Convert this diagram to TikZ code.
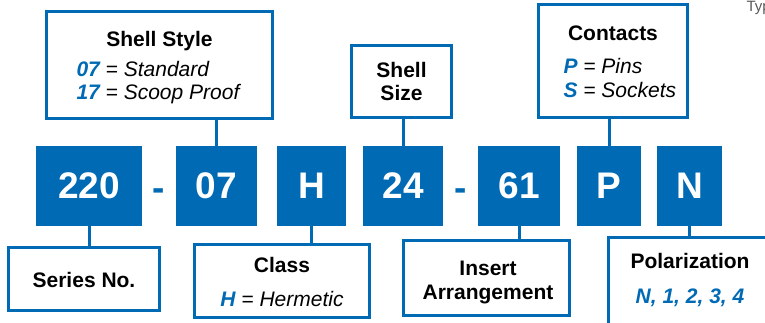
\documentclass[tikz,border=0pt]{standalone}
\usepackage{fontspec}
\setmainfont{Liberation Sans}
\usepackage{tikz}
\definecolor{codeblue}{RGB}{0,106,180}

\begin{document}
\begin{tikzpicture}[x=1pt,y=-1pt,
  codebox/.style={fill=codeblue,text=white,minimum height=80pt,inner sep=0pt,outer sep=0pt,
    font=\fontsize{37}{40}\selectfont\bfseries},
  infobox/.style={draw=codeblue,line width=3pt,fill=white,inner sep=0pt,outer sep=0pt},
  link/.style={draw=codeblue,line width=3pt},
  hyph/.style={text=codeblue,anchor=base,font=\fontsize{37}{40}\selectfont\bfseries},
  title/.style={anchor=base,font=\fontsize{21}{24}\selectfont\bfseries},
  note/.style={anchor=base west,font=\fontsize{21}{24}\selectfont\itshape}]
\clip (0,0) rectangle (765,322);
% part number
\node[codebox,minimum width=106pt] (b220) at (89,186) {220};
\node[hyph] (d1) at (159,200) {-};
\node[codebox,minimum width=81pt] (b07) at (216.5,186) {07};
\node[codebox,minimum width=69pt] (bH) at (311.5,186) {H};
\node[codebox,minimum width=80pt] (b24) at (403,186) {24};
\node[hyph] (d2) at (461,200) {-};
\node[codebox,minimum width=82pt] (b61) at (519,186) {61};
\node[codebox,minimum width=64pt] (bP) at (609,186) {P};
\node[codebox,minimum width=65pt] (bN) at (689.5,186) {N};
% boxes above
\node[infobox,minimum width=226pt,minimum height=107.5pt] (style) at (159.5,64.75) {};
\node[title] (styleT) at (159.5,46) {Shell Style};
\node[note] (style1) at (73,76) {\textcolor{codeblue}{\bfseries 07} = Standard};
\node[note] (style2) at (73,99) {\textcolor{codeblue}{\bfseries 17} = Scoop Proof};
\node[infobox,minimum width=100pt,minimum height=72pt] (size) at (401.5,81.5) {};
\node[title] (sizeT) at (401.5,77) {Shell};
\node[title] (sizeT2) at (401.5,100) {Size};
\node[infobox,minimum width=149pt,minimum height=113pt] (contacts) at (613,61) {};
\node[title] (contactsT) at (613,40) {Contacts};
\node[note] (contacts1) at (560,73) {\textcolor{codeblue}{\bfseries P} = Pins};
\node[note] (contacts2) at (560,97) {\textcolor{codeblue}{\bfseries S} = Sockets};
% boxes below
\node[infobox,minimum width=151pt,minimum height=63pt] (series) at (84,279) {};
\node[title] (seriesT) at (84,287) {Series No.};
\node[infobox,minimum width=175pt,minimum height=73pt] (class) at (282,281) {};
\node[title] (classT) at (282,272) {Class};
\node[note,anchor=base] (class1) at (282,306) {\textcolor{codeblue}{\bfseries H} = Hermetic};
\node[infobox,minimum width=166pt,minimum height=75pt] (insert) at (486.5,278) {};
\node[title] (insertT) at (488,275) {Insert};
\node[title] (insertT2) at (488,299) {Arrangement};
\node[infobox,minimum width=200pt,minimum height=100pt] (polar) at (708.5,287.5) {};
\node[title] (polarT) at (690,268) {Polarization};
\node[title,text=codeblue,font=\fontsize{21}{24}\selectfont\bfseries\itshape] (polar1) at (690,303) {N, 1, 2, 3, 4};
\node[anchor=base west,text=gray!70!black,font=\fontsize{15}{18}\selectfont] (typ) at (743,11) {Typ};
% connectors
\draw[link] (b220.south) -- (b220.south |- series.north);
\draw[link] (b07.north) -- (b07.north |- style.south);
\draw[link] (bH.south) -- (bH.south |- class.north);
\draw[link] (b24.north) -- (b24.north |- size.south);
\draw[link] (b61.south) -- (b61.south |- insert.north);
\draw[link] (bP.north) -- (bP.north |- contacts.south);
\draw[link] (bN.south) -- (bN.south |- polar.north);
\end{tikzpicture}
\end{document}
